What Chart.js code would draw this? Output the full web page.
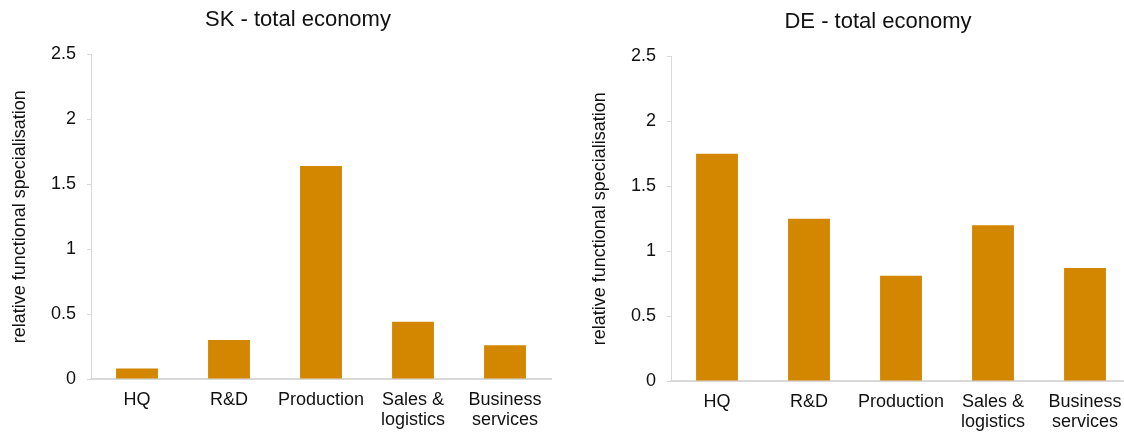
<!DOCTYPE html>
<html>
<head>
<meta charset="utf-8">
<script src="https://cdn.jsdelivr.net/npm/chart.js@4.4.1/dist/chart.umd.min.js"></script>
<style>
  html, body { margin: 0; padding: 0; background: #fff; }
  body { width: 1124px; height: 432px; overflow: hidden; position: relative; }
  .panel { position: absolute; top: 0; }
</style>
</head>
<body>
<div class="panel" style="left:0px;top:0px"><canvas id="skChart" width="596" height="432"></canvas></div>
<div class="panel" style="left:580px;top:2px"><canvas id="deChart" width="596" height="432"></canvas></div>
<script>
// Chart data
const categories = ['HQ', 'R&D', 'Production', ['Sales &', 'logistics'], ['Business', 'services']];
const skValues = [0.08, 0.30, 1.64, 0.44, 0.26];
const deValues = [1.75, 1.25, 0.81, 1.20, 0.87];
const skTitle = 'SK - total economy';
const deTitle = 'DE - total economy';
const yAxisTitle = 'relative functional specialisation';

const fontFamily = "'Liberation Sans', Arial, sans-serif";
const barColor = '#d38600';
const axisColor = '#d9d9d9';
const textColor = '#111111';

function makeChart(canvasId, titleText, values) {
    const ctx = document.getElementById(canvasId).getContext('2d');
    return new Chart(ctx, {
        type: 'bar',
        data: {
            labels: categories,
            datasets: [{
                data: values,
                backgroundColor: barColor,
                borderWidth: 0,
                categoryPercentage: 1,
                barPercentage: 0.455
            }]
        },
        options: {
            responsive: false,
            animation: false,
            layout: { padding: { left: 0, right: 0, top: 0, bottom: 0 } },
            plugins: {
                legend: { display: false },
                tooltip: { enabled: false },
                title: {
                    display: true,
                    text: titleText,
                    color: textColor,
                    font: { family: fontFamily, size: 22, weight: 'normal', lineHeight: 1.2 },
                    padding: { top: 7, bottom: 21 }
                }
            },
            scales: {
                x: {
                    grid: { display: false, drawTicks: false },
                    border: { display: true, color: axisColor, width: 2 },
                    ticks: {
                        color: textColor,
                        padding: 11,
                        maxRotation: 0,
                        autoSkip: false,
                        font: { family: fontFamily, size: 18, lineHeight: 1.1 }
                    },
                    afterFit: (s) => { s.height = 53; }
                },
                y: {
                    min: 0,
                    max: 2.5,
                    ticks: {
                        stepSize: 0.5,
                        color: textColor,
                        padding: 11,
                        font: { family: fontFamily, size: 18 },
                        callback: (v) => String(v)
                    },
                    grid: { display: true, drawOnChartArea: false, drawTicks: true, tickLength: 4, color: axisColor },
                    border: { display: true, color: axisColor, width: 1 },
                    title: {
                        display: true,
                        text: yAxisTitle,
                        color: textColor,
                        font: { family: fontFamily, size: 18, lineHeight: 1.2 },
                        padding: { top: 9, bottom: 0 }
                    },
                    afterFit: (s) => { s.width = 91; }
                },
                // empty right axis, only keeps the plot clear of the right edge
                yRight: {
                    position: 'right',
                    display: true,
                    ticks: { display: false },
                    grid: { display: false, drawTicks: false },
                    border: { display: false },
                    afterFit: (s) => { s.width = 45; }
                }
            }
        }
    });
}

makeChart('skChart', skTitle, skValues);
makeChart('deChart', deTitle, deValues);
</script>
</body>
</html>
